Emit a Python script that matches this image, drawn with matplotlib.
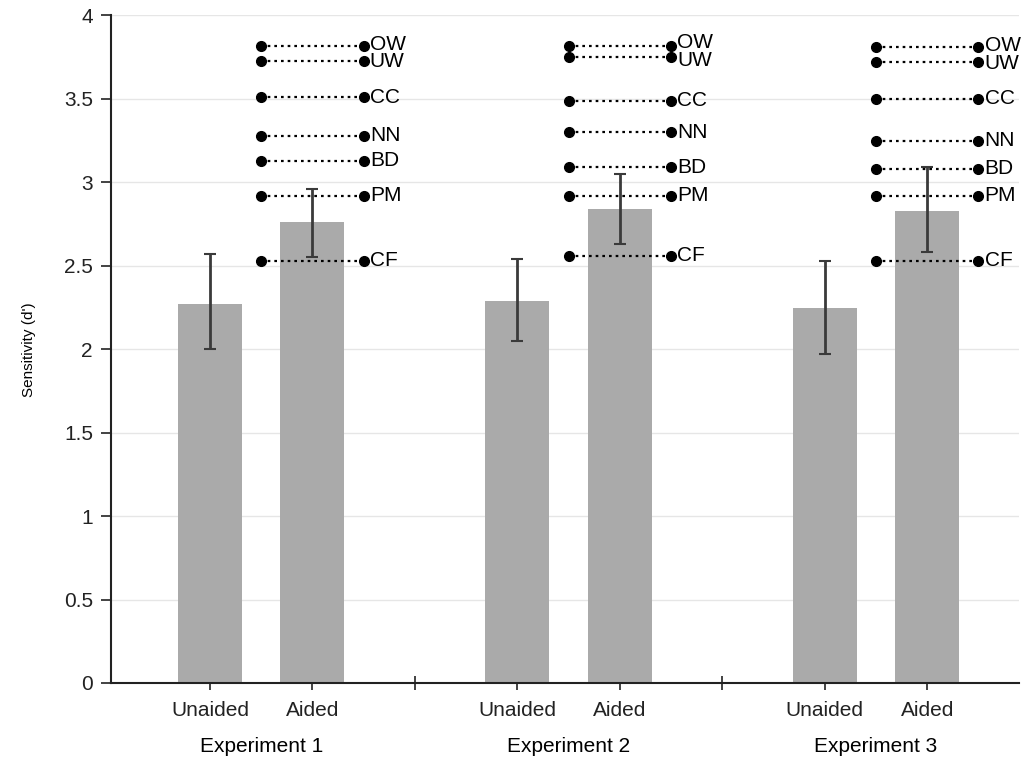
import matplotlib.pyplot as plt
import matplotlib.transforms as mtransforms

plt.rcParams['font.family'] = ['Liberation Sans', 'DejaVu Sans']

experiments = ['Experiment 1', 'Experiment 2', 'Experiment 3']
conditions = ['Unaided', 'Aided']

unaided = [2.27, 2.29, 2.25]
unaided_lo = [2.00, 2.05, 1.97]
unaided_hi = [2.57, 2.54, 2.53]

aided = [2.76, 2.84, 2.83]
aided_lo = [2.55, 2.63, 2.58]
aided_hi = [2.96, 3.05, 3.09]

point_labels = ['OW', 'UW', 'CC', 'NN', 'BD', 'PM', 'CF']
exp1_points = [3.82, 3.73, 3.51, 3.28, 3.13, 2.92, 2.53]
exp2_points = [3.82, 3.75, 3.49, 3.30, 3.09, 2.92, 2.56]
exp3_points = [3.81, 3.72, 3.50, 3.25, 3.08, 2.92, 2.53]
points = [exp1_points, exp2_points, exp3_points]


def spread(vals, gap=0.105):
    # push labels apart a little when their lines sit too close
    pos = list(vals)
    for i in range(len(pos) - 1):
        d = pos[i] - pos[i + 1]
        if d < gap:
            shift = (gap - d) / 2
            pos[i] += shift
            pos[i + 1] -= shift
    return pos


fig = plt.figure(figsize=(10.23, 7.62), dpi=100)
ax = fig.add_axes([0.1085, 0.1037, 0.888, 0.876])

bar_color = '#aaaaaa'
err_color = '#3a3a3a'
fs = 15

centers = [3 * i for i in range(len(experiments))]
x_un = [c for c in centers]
x_ai = [c + 1 for c in centers]

ax.bar(x_un, unaided, width=0.625, color=bar_color, zorder=2)
ax.bar(x_ai, aided, width=0.625, color=bar_color, zorder=2)

ax.errorbar(x_un, unaided,
            yerr=[[u - l for u, l in zip(unaided, unaided_lo)],
                  [h - u for u, h in zip(unaided, unaided_hi)]],
            fmt='none', ecolor=err_color, elinewidth=2, capsize=4, capthick=1.5, zorder=3)
ax.errorbar(x_ai, aided,
            yerr=[[a - l for a, l in zip(aided, aided_lo)],
                  [h - a for a, h in zip(aided, aided_hi)]],
            fmt='none', ecolor=err_color, elinewidth=2, capsize=4, capthick=1.5, zorder=3)

for xa, vals in zip(x_ai, points):
    label_y = spread(vals)
    for lab, v, ly in zip(point_labels, vals, label_y):
        ax.plot([xa - 0.5, xa + 0.5], [v, v], linestyle=(0, (1.2, 1.8)), color='black',
                linewidth=1.6, zorder=4)
        ax.plot([xa - 0.5, xa + 0.5], [v, v], 'o', color='black', markersize=7, zorder=5)
        ax.text(xa + 0.56, ly, lab, fontsize=fs, ha='left', va='center', zorder=6)

ax.set_ylim(0, 4)
ax.set_xlim(-0.966, 7.9)
ax.set_yticks([0, 0.5, 1, 1.5, 2, 2.5, 3, 3.5, 4])
ax.set_yticklabels(['0', '0.5', '1', '1.5', '2', '2.5', '3', '3.5', '4'])
ax.yaxis.grid(True, color='#e6e6e6', linewidth=1, zorder=0)
ax.set_axisbelow(True)

ticks = []
labels = []
for c in centers:
    ticks += [c, c + 1]
    labels += conditions
ax.set_xticks(ticks)
ax.set_xticklabels(labels)
ax.set_xticks([2, 5], minor=True)

ax.tick_params(axis='y', labelsize=fs, direction='out', length=7, width=1.2, colors='#222222', pad=6)
ax.tick_params(axis='x', which='both', labelsize=fs, direction='inout', length=10, width=1.2,
               colors='#222222', pad=8)

for side in ['top', 'right']:
    ax.spines[side].set_visible(False)
for side in ['left', 'bottom']:
    ax.spines[side].set_linewidth(1.5)
    ax.spines[side].set_color('#222222')

trans = mtransforms.blended_transform_factory(ax.transData, ax.transAxes)
for c, name in zip(centers, experiments):
    ax.text(c + 0.5, -0.095, name, transform=trans, ha='center', va='center', fontsize=fs)

ax.set_ylabel("Sensitivity (d')", fontsize=11, labelpad=20)

fig.savefig('out.png', dpi=100)
